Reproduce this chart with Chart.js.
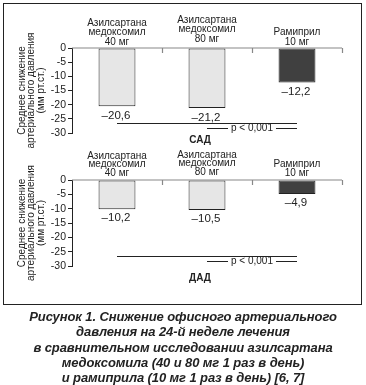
<!DOCTYPE html>
<html>
<head>
<meta charset="utf-8">
<script src="https://cdn.jsdelivr.net/npm/chart.js@4.4.1/dist/chart.umd.min.js"></script>
<style>
  html, body { margin: 0; padding: 0; background: #fff; }
  body { width: 366px; height: 385px; position: relative; overflow: hidden; }
  #frame { position: absolute; left: 3px; top: 3px; width: 357px; height: 300px; border: 1px solid #222; }
  canvas { position: absolute; left: 0; }
  #c1 { top: 0; }
  #c2 { top: 140px; }
  #caption { position: absolute; left: 0; top: 309px; width: 366px; text-align: center;
    font-family: 'Liberation Sans', Arial, sans-serif; font-weight: bold; font-style: italic;
    font-size: 13px; line-height: 15.3px; color: #222; letter-spacing: -0.1px; }
</style>
</head>
<body>
<div id="frame"></div>
<canvas id="c1" width="366" height="150"></canvas>
<canvas id="c2" width="366" height="160"></canvas>
<div id="caption">Рисунок 1. Снижение офисного артериального<br>давления на 24-й неделе лечения<br>в сравнительном исследовании азилсартана<br>медоксомила (40 и 80 мг 1 раз в день)<br>и рамиприла (10 мг 1 раз в день) [6, 7]</div>
<script>
// ---- data ----
const categories = [
  ['Азилсартана', 'медоксомил', '40 мг'],
  ['Азилсартана', 'медоксомил', '80 мг'],
  ['Рамиприл', '10 мг']
];
const sadValues = [-20.6, -21.2, -12.2];
const dadValues = [-10.2, -10.5, -4.9];
const yMin = -30;
const yMax = 0;
const yStep = 5;
const yTitle = ['Среднее снижение', 'артериального давления', '(мм рт.ст.)'];
const pLabel = 'p < 0,001';
const brackets = [
  { from: 0, to: 2, y: -26.5 },
  { from: 1, to: 2, y: -28.2, label: pLabel }
];
const barColors = ['#e6e6e6', '#e6e6e6', '#404040'];

// ---- styling ----
const FONT = "'Liberation Sans', Arial, sans-serif";
const TEXT = '#222';
Chart.defaults.font.family = FONT;
Chart.defaults.color = TEXT;

function fmt(v) {
  return (v < 0 ? '\u2013' : '') + Math.abs(v).toFixed(1).replace('.', ',');
}

const annotatePlugin = {
  id: 'annotate',
  afterDatasetsDraw(chart, args, opts) {
    const ctx = chart.ctx;
    const x = chart.scales.x, y = chart.scales.y;
    const area = chart.chartArea;
    const zeroY = y.getPixelForValue(0);
    ctx.save();
    // x axis line along zero + boundary ticks
    ctx.strokeStyle = '#888';
    ctx.lineWidth = 1.2;
    ctx.beginPath();
    ctx.moveTo(area.left, zeroY);
    ctx.lineTo(area.right, zeroY);
    const n = chart.data.labels.length;
    for (let i = 0; i < n; i++) {
      const bx = i < n - 1 ? (x.getPixelForValue(i) + x.getPixelForValue(i + 1)) / 2 : area.right;
      ctx.moveTo(Math.round(bx) + 0.5, zeroY);
      ctx.lineTo(Math.round(bx) + 0.5, zeroY + 5);
    }
    ctx.stroke();

    // category labels above axis
    ctx.fillStyle = TEXT;
    ctx.font = '10px ' + FONT;
    ctx.textAlign = 'center';
    ctx.textBaseline = 'middle';
    const meta = chart.getDatasetMeta(0);
    chart.data.labels.forEach((lines, i) => {
      const cx = x.getPixelForValue(i);
      const lift = opts.lift[i] || 0;
      const bottomY = zeroY - opts.labelGap - lift;
      for (let k = 0; k < lines.length; k++) {
        const ly = bottomY - (lines.length - 1 - k) * opts.lineStep;
        ctx.fillText(lines[k], cx, ly);
      }
    });

    // value labels under bars
    ctx.font = '11.5px ' + FONT;
    ctx.textBaseline = 'top';
    const vals = chart.data.datasets[0].data;
    meta.data.forEach((bar, i) => {
      ctx.fillText(fmt(vals[i]), bar.x - 1, bar.y + opts.valueGap);
    });

    // significance brackets
    ctx.lineWidth = 1;
    ctx.font = '10px ' + FONT;
    ctx.textBaseline = 'middle';
    brackets.forEach(b => {
      const x1 = x.getPixelForValue(b.from), x2 = x.getPixelForValue(b.to);
      const by = Math.round(y.getPixelForValue(b.y)) + 0.5;
      ctx.strokeStyle = '#222';
      ctx.beginPath();
      if (b.label) {
        const mid = (x1 + x2) / 2;
        const w = ctx.measureText(b.label).width;
        ctx.moveTo(x1, by); ctx.lineTo(mid - w / 2 - 3, by);
        ctx.moveTo(mid + w / 2 + 3, by); ctx.lineTo(x2, by);
        ctx.stroke();
        ctx.fillStyle = '#fff';
        ctx.fillRect(mid - w / 2 - 1, by - 4, w + 2, 8);
        ctx.fillStyle = TEXT;
        ctx.fillText(b.label, mid, by);
      } else {
        ctx.moveTo(x1, by); ctx.lineTo(x2, by);
        ctx.stroke();
      }
    });

    // panel title (САД / ДАД)
    ctx.fillStyle = TEXT;
    ctx.font = 'bold 10px ' + FONT;
    ctx.fillText(opts.title, (area.left + area.right) / 2 - 7, y.getPixelForValue(yMin) + opts.titleGap);
    ctx.restore();
  }
};

function makeChart(id, values, cfg) {
  return new Chart(document.getElementById(id), {
    type: 'bar',
    data: {
      labels: categories,
      datasets: [{
        data: values,
        backgroundColor: barColors,
        borderColor: '#222',
        borderWidth: 1,
        borderSkipped: false,
        barPercentage: 0.41,
        categoryPercentage: 1
      }]
    },
    options: {
      responsive: false,
      animation: false,
      layout: { padding: { left: 10, right: 24, top: cfg.top, bottom: cfg.bottom } },
      plugins: {
        legend: { display: false },
        tooltip: { enabled: false },
        annotate: cfg.annot
      },
      scales: {
        x: { display: false, offset: true },
        y: {
          min: yMin, max: yMax,
          ticks: { stepSize: yStep, autoSkip: false, font: { size: 10.5 }, color: TEXT, padding: 2 },
          grid: { drawOnChartArea: false, drawTicks: true, tickLength: 4, color: '#222' },
          border: { display: true, color: '#222', width: 1 },
          title: { display: true, text: yTitle, font: { size: 10, lineHeight: 0.95 }, color: TEXT, padding: { top: 7, bottom: 0 } },
          afterFit(scale) { scale.width = 62; }
        }
      }
    },
    plugins: [annotatePlugin]
  });
}

makeChart('c1', sadValues, { top: 48, bottom: 17, annot: { lift: [0, 3, 0], labelGap: 6, lineStep: 9.5, valueGap: 4, title: 'САД', titleGap: 7 } });
makeChart('c2', dadValues, { top: 40, bottom: 34, annot: { lift: [0, 1, 0], labelGap: 7, lineStep: 8.5, valueGap: 3, title: 'ДАД', titleGap: 12 } });
</script>
</body>
</html>
